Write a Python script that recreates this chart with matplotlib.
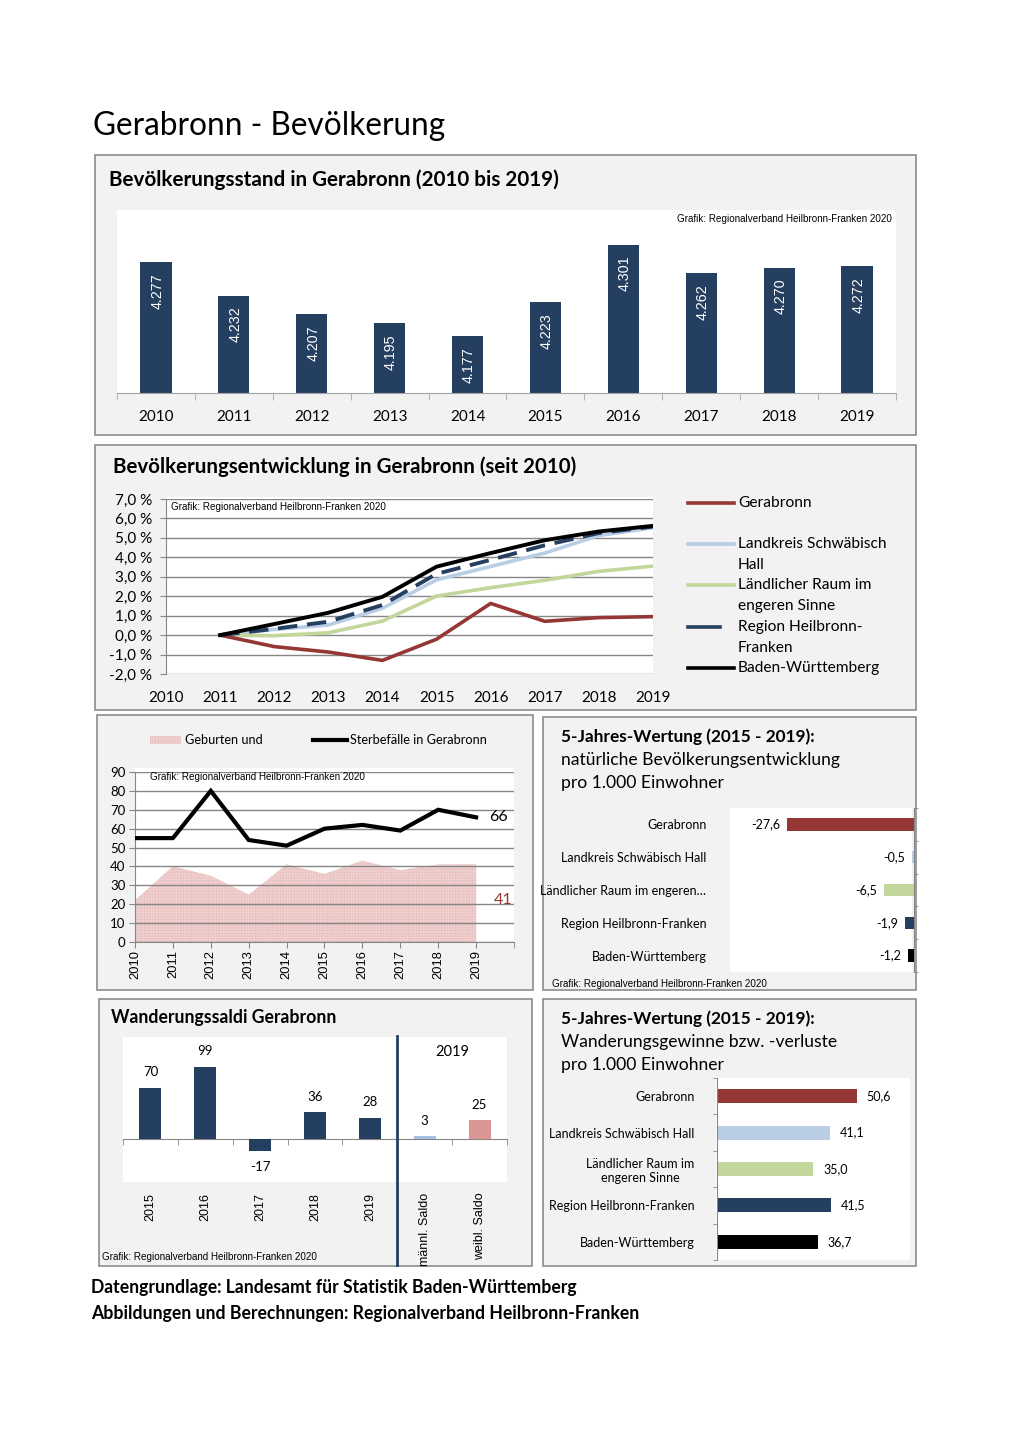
import matplotlib
matplotlib.use("Agg")
import matplotlib.pyplot as plt
import numpy as np
from matplotlib.patches import Rectangle
from matplotlib.lines import Line2D
from matplotlib.ticker import FixedLocator

W, H = 1020, 1442

CALIBRI = "Lato"
ARIAL = "Liberation Sans"
GRAFIK = "Grafik: Regionalverband Heilbronn-Franken 2020"

NAVY = "#243F60"
RED = "#953735"
LIGHT_BLUE = "#B9CDE5"
GREEN = "#C3D69B"
PINK = "#D99694"
AREA_PINK = "#E6B9B8"
GRID = "#868686"
PANEL_BG = "#F2F2F2"
PANEL_EDGE = "#8C8C8C"

# Bevölkerungsstand
stand_years = ["2010", "2011", "2012", "2013", "2014", "2015", "2016", "2017", "2018", "2019"]
stand_values = [4277, 4232, 4207, 4195, 4177, 4223, 4301, 4262, 4270, 4272]

# Bevölkerungsentwicklung (% seit Basisjahr)
dev_labels = ["2010", "2011", "2012", "2013", "2014", "2015", "2016", "2017", "2018", "2019"]
dev_gerabronn = [0.0, -0.59, -0.87, -1.30, -0.21, 1.63, 0.71, 0.90, 0.95]
dev_lk_sha = [0.0, 0.29, 0.52, 1.38, 2.84, 3.53, 4.22, 5.12, 5.52]
dev_laendlich = [0.0, -0.03, 0.12, 0.72, 2.01, 2.44, 2.82, 3.28, 3.55]
dev_region = [0.0, 0.32, 0.69, 1.55, 3.15, 3.87, 4.62, 5.25, 5.58]
dev_bw = [0.0, 0.57, 1.15, 1.97, 3.52, 4.22, 4.88, 5.33, 5.62]

# Geburten und Sterbefälle
gs_years = ["2010", "2011", "2012", "2013", "2014", "2015", "2016", "2017", "2018", "2019"]
births = [22, 40, 35, 25, 41, 36, 43, 38, 41, 41]
deaths = [55, 55, 80, 54, 51, 60, 62, 59, 70, 66]

# 5-Jahres-Wertung
region_names_short = ["Gerabronn", "Landkreis Schwäbisch Hall", "Ländlicher Raum im engeren…",
                      "Region Heilbronn-Franken", "Baden-Württemberg"]
region_names_wrap = ["Gerabronn", "Landkreis Schwäbisch Hall", "Ländlicher Raum im\nengeren Sinne",
                     "Region Heilbronn-Franken", "Baden-Württemberg"]
natural_values = [-27.6, -0.5, -6.5, -1.9, -1.2]
migration_values = [50.6, 41.1, 35.0, 41.5, 36.7]
region_colors = [RED, LIGHT_BLUE, GREEN, NAVY, "#000000"]

# Wanderungssaldi
wand_labels = ["2015", "2016", "2017", "2018", "2019", "männl. Saldo", "weibl. Saldo"]
wand_values = [70, 99, -17, 36, 28, 3, 25]
wand_colors = [NAVY, NAVY, NAVY, NAVY, NAVY, "#A7BFDE", PINK]


def fmt_de(v: float) -> str:
    return f"{v:.1f}".replace(".", ",")


def px_axes(fig, x0, y0, x1, y1):
    return fig.add_axes([x0 / W, 1 - y1 / H, (x1 - x0) / W, (y1 - y0) / H])


def ftext(fig, x, y, s, **kw):
    return fig.text(x / W, 1 - y / H, s, **kw)


def panel(fig, x0, y0, x1, y1, inner=None):
    fig.add_artist(Rectangle((x0 / W, 1 - y1 / H), (x1 - x0) / W, (y1 - y0) / H,
                             transform=fig.transFigure, facecolor=PANEL_BG,
                             edgecolor=PANEL_EDGE, linewidth=1.2, zorder=-2))
    if inner is not None:
        a0, b0, a1, b1 = inner
        fig.add_artist(Rectangle((a0 / W, 1 - b1 / H), (a1 - a0) / W, (b1 - b0) / H,
                                 transform=fig.transFigure, facecolor="white",
                                 edgecolor="none", zorder=-1))


def plot_stand(fig):
    panel(fig, 95, 155, 916, 435, inner=(117, 210, 896, 393))
    ftext(fig, 109, 180, "Bevölkerungsstand in Gerabronn (2010 bis 2019)",
          family=CALIBRI, fontweight="bold", fontsize=14.85, va="center")
    ax = px_axes(fig, 117, 210, 896, 393)
    ax.set_facecolor("none")
    x = np.arange(len(stand_years))
    bars = ax.bar(x, stand_values, width=0.4, color=NAVY)
    ax.set_ylim(4100, 4348)
    ax.set_xlim(-0.5, 9.5)
    for rect, v in zip(bars, stand_values):
        ax.annotate(f"{v/1000:.3f}", (rect.get_x() + rect.get_width() / 2, v),
                    xytext=(1, -8), textcoords="offset points", rotation=90,
                    ha="center", va="top", color="white", family=ARIAL, fontsize=10.3)
    for s in ["top", "right", "left"]:
        ax.spines[s].set_visible(False)
    ax.spines["bottom"].set_color("#A6A6A6")
    ax.set_yticks([])
    ax.set_xticks(x)
    ax.set_xticklabels(stand_years, family=CALIBRI, fontsize=11)
    ax.tick_params(axis="x", which="major", length=0, pad=12)
    ax.xaxis.set_minor_locator(FixedLocator(np.arange(-0.5, 10, 1)))
    ax.tick_params(axis="x", which="minor", length=5, color="#A6A6A6")
    ax.text(0.995, 0.95, GRAFIK, transform=ax.transAxes, ha="right", va="center",
            family=ARIAL, fontsize=7.1)


def plot_development(fig):
    panel(fig, 95, 445, 916, 710, inner=(166, 497, 653, 674))
    ftext(fig, 113, 467, "Bevölkerungsentwicklung in Gerabronn (seit 2010)",
          family=CALIBRI, fontweight="bold", fontsize=14.8, va="center")
    ax = px_axes(fig, 166, 499, 653, 674)
    ax.set_facecolor("none")
    xs = np.arange(1, len(dev_gerabronn) + 1)
    ax.plot(xs, dev_lk_sha, color=LIGHT_BLUE, lw=2.6, zorder=3)
    ax.plot(xs, dev_laendlich, color=GREEN, lw=2.6, zorder=3)
    ax.plot(xs, dev_gerabronn, color=RED, lw=2.6, zorder=4)
    ax.plot(xs, dev_region, color=NAVY, lw=2.8, dashes=(5, 2.5), zorder=5)
    ax.plot(xs, dev_bw, color="black", lw=2.8, zorder=6)
    ax.set_xlim(0, 9)
    ax.set_ylim(-2, 7)
    ax.set_yticks(np.arange(-2, 8, 1))
    ax.set_yticklabels([f"{v:.1f} %".replace(".", ",") for v in np.arange(-2, 8, 1)],
                       family=CALIBRI, fontsize=11)
    ax.set_xticks(np.arange(len(dev_labels)))
    ax.set_xticklabels(dev_labels, family=CALIBRI, fontsize=11)
    ax.grid(axis="y", color=GRID, lw=1)
    ax.tick_params(axis="y", length=4, color=GRID, pad=6)
    ax.tick_params(axis="x", length=0, pad=12)
    for s in ["top", "right"]:
        ax.spines[s].set_visible(False)
    ax.spines["bottom"].set_visible(False)
    ax.spines["left"].set_color(GRID)
    ax.text(0.01, 0.985, GRAFIK, transform=ax.transAxes, ha="left", va="top",
            family=ARIAL, fontsize=7.1)

    legend = [
        (RED, None, ["Gerabronn"], 503),
        (LIGHT_BLUE, None, ["Landkreis Schwäbisch", "Hall"], 544),
        (GREEN, None, ["Ländlicher Raum im", "engeren Sinne"], 585),
        (NAVY, 720, ["Region Heilbronn-", "Franken"], 627),
        ("black", None, ["Baden-Württemberg"], 668),
    ]
    for color, xend, lines, y in legend:
        xe = xend if xend else 734
        fig.add_artist(Line2D([688 / W, xe / W], [1 - y / H, 1 - y / H],
                              transform=fig.transFigure, color=color, lw=2.6))
        for i, line in enumerate(lines):
            ftext(fig, 738, y + i * 20.8, line, family=CALIBRI, fontsize=11.2, va="center")


def plot_births(fig):
    panel(fig, 97, 715, 533, 990, inner=(135, 768, 514, 942))
    ax = px_axes(fig, 135, 772, 514, 942)
    ax.set_facecolor("none")
    x = np.arange(len(gs_years))
    ax.fill_between(x, births, 0, facecolor=AREA_PINK, edgecolor="#EFCFCE",
                    hatch="++++++", linewidth=0, zorder=2)
    ax.plot(x, deaths, color="black", lw=3, zorder=4, solid_joinstyle="miter")
    ax.set_xlim(0, 10)
    ax.set_ylim(0, 90)
    ax.set_yticks(np.arange(0, 100, 10))
    ax.set_yticklabels([str(v) for v in range(0, 100, 10)], family=CALIBRI, fontsize=9.5)
    ax.set_xticks(x)
    ax.set_xticklabels(gs_years, rotation=90, family=ARIAL, fontsize=9.3)
    ax.xaxis.set_minor_locator(FixedLocator([10]))
    ax.tick_params(axis="x", which="both", length=4, color=GRID, pad=2)
    ax.tick_params(axis="y", length=4, color=GRID, pad=3)
    ax.grid(axis="y", color=GRID, lw=1, zorder=3)
    ax.set_axisbelow(False)
    for s in ["top", "right"]:
        ax.spines[s].set_visible(False)
    ax.spines["left"].set_color(GRID)
    ax.spines["bottom"].set_color(GRID)
    ax.text(9.6, deaths[-1], str(deaths[-1]), ha="center", va="center",
            family=CALIBRI, fontsize=11.5, zorder=5)
    ax.text(9.72, 22, str(births[-1]), ha="center", va="center",
            family=CALIBRI, fontsize=11.5, color=RED, zorder=5)
    ax.text(0.04, 0.97, GRAFIK, transform=ax.transAxes, ha="left", va="center",
            family=ARIAL, fontsize=7.1, zorder=5)

    fig.add_artist(Rectangle((150 / W, 1 - 744 / H), 31 / W, 8 / H, transform=fig.transFigure,
                             facecolor=AREA_PINK, edgecolor="#EFCFCE", hatch="++++++", lw=0))
    ftext(fig, 185, 740, "Geburten und", family=CALIBRI, fontsize=9.2, va="center")
    fig.add_artist(Line2D([313 / W, 347 / W], [1 - 740 / H, 1 - 740 / H],
                          transform=fig.transFigure, color="black", lw=3))
    ftext(fig, 350, 740, "Sterbefälle in Gerabronn", family=CALIBRI, fontsize=9.2, va="center")


def five_year_titles(fig, y0, subtitle):
    ftext(fig, 561, y0, "5-Jahres-Wertung (2015 - 2019):", family=CALIBRI,
          fontweight="bold", fontsize=12.4, va="center")
    ftext(fig, 561, y0 + 23, subtitle, family=CALIBRI, fontsize=12.6, va="center")
    ftext(fig, 561, y0 + 46, "pro 1.000 Einwohner", family=CALIBRI, fontsize=12.6, va="center")


def plot_natural(fig):
    panel(fig, 543, 717, 916, 990, inner=(730, 808, 912, 972))
    five_year_titles(fig, 737, "natürliche Bevölkerungsentwicklung")
    ax = px_axes(fig, 730, 808, 914, 972)
    ax.set_facecolor("none")
    y = np.arange(len(natural_values))
    bars = ax.barh(y, natural_values, height=0.38, color=region_colors)
    ax.set_xlim(-40, 0)
    ax.set_ylim(4.5, -0.5)
    for rect, v in zip(bars, natural_values):
        ax.annotate(fmt_de(v), (v, rect.get_y() + rect.get_height() / 2),
                    xytext=(-5, 0), textcoords="offset points", ha="right", va="center",
                    family=CALIBRI, fontsize=9)
    ax.set_xticks([])
    ax.set_yticks(y)
    ax.set_yticklabels(region_names_short, family=CALIBRI, fontsize=9)
    ax.tick_params(axis="y", which="major", length=0, pad=17)
    ax.yaxis.set_minor_locator(FixedLocator(np.arange(-0.5, 5, 1)))
    ax.tick_params(axis="y", which="minor", left=False, right=True, length=3, color=GRID)
    for s in ["top", "left", "bottom"]:
        ax.spines[s].set_visible(False)
    ax.spines["right"].set_color(GRID)
    ftext(fig, 552, 984, GRAFIK, family=ARIAL, fontsize=7.1, va="center")


def plot_wanderung(fig):
    panel(fig, 99, 999, 532, 1266, inner=(123, 1037, 507, 1182))
    ftext(fig, 111, 1018, "Wanderungssaldi Gerabronn", family=CALIBRI,
          fontweight="bold", fontsize=12.7, va="center")
    ax = px_axes(fig, 123, 1037, 507, 1182)
    ax.set_facecolor("none")
    x = np.arange(len(wand_values))
    bars = ax.bar(x, wand_values, width=0.4, color=wand_colors, zorder=3)
    ax.set_xlim(-0.5, 6.5)
    ax.set_ylim(-60, 140)
    for rect, v in zip(bars, wand_values):
        off = 7 if v >= 0 else -7
        ax.annotate(str(v), (rect.get_x() + rect.get_width() / 2, v),
                    xytext=(0, off), textcoords="offset points", ha="center",
                    va="bottom" if v >= 0 else "top", family=CALIBRI, fontsize=9.5)
    for s in ["top", "right", "left"]:
        ax.spines[s].set_visible(False)
    ax.spines["bottom"].set_position(("data", 0))
    ax.spines["bottom"].set_color(GRID)
    ax.set_yticks([])
    ax.set_xticks(x)
    ax.set_xticklabels(wand_labels, rotation=90, family=ARIAL, fontsize=9)
    ax.tick_params(axis="x", which="major", length=0, pad=39)
    ax.xaxis.set_minor_locator(FixedLocator(np.arange(-0.5, 7, 1)))
    ax.tick_params(axis="x", which="minor", length=4, color=GRID)
    ax.axvline(4.5, ymin=-0.57, ymax=1.01, color=NAVY, lw=2, clip_on=False, zorder=4)
    ax.text(5.5, 120, "2019", ha="center", va="center", family=CALIBRI, fontsize=10.5)
    ftext(fig, 102, 1257, GRAFIK, family=ARIAL, fontsize=7.1, va="center")


def plot_migration(fig):
    panel(fig, 543, 999, 916, 1266, inner=(716, 1078, 910, 1260))
    five_year_titles(fig, 1019, "Wanderungsgewinne bzw. -verluste")
    ax = px_axes(fig, 717, 1078, 910, 1260)
    ax.set_facecolor("none")
    y = np.arange(len(migration_values))
    bars = ax.barh(y, migration_values, height=0.38, color=region_colors)
    ax.set_xlim(0, 70)
    ax.set_ylim(4.5, -0.5)
    for rect, v in zip(bars, migration_values):
        ax.annotate(fmt_de(v), (v, rect.get_y() + rect.get_height() / 2),
                    xytext=(7, 0), textcoords="offset points", ha="left", va="center",
                    family=CALIBRI, fontsize=9)
    ax.set_xticks([])
    ax.set_yticks(y)
    ax.set_yticklabels(region_names_wrap, family=CALIBRI, fontsize=9)
    for lbl in ax.get_yticklabels():
        lbl.set_multialignment("center")
    ax.tick_params(axis="y", which="major", length=0, pad=16)
    ax.yaxis.set_minor_locator(FixedLocator(np.arange(-0.5, 5, 1)))
    ax.tick_params(axis="y", which="minor", length=3, color=GRID)
    for s in ["top", "right", "bottom"]:
        ax.spines[s].set_visible(False)
    ax.spines["left"].set_color(GRID)


def main() -> None:
    fig = plt.figure(figsize=(W / 100, H / 100), dpi=100)
    fig.patch.set_facecolor("white")
    ftext(fig, 93, 126, "Gerabronn - Bevölkerung", family=CALIBRI, fontsize=22.7, va="center")

    plot_stand(fig)
    plot_development(fig)
    plot_births(fig)
    plot_natural(fig)
    plot_wanderung(fig)
    plot_migration(fig)

    ftext(fig, 91, 1288, "Datengrundlage: Landesamt für Statistik Baden-Württemberg",
          family=CALIBRI, fontweight="bold", fontsize=12.7, va="center")
    ftext(fig, 91, 1313, "Abbildungen und Berechnungen: Regionalverband Heilbronn-Franken",
          family=CALIBRI, fontweight="bold", fontsize=12.7, va="center")

    fig.savefig("out.png", dpi=100)
    plt.close(fig)


if __name__ == "__main__":
    main()
